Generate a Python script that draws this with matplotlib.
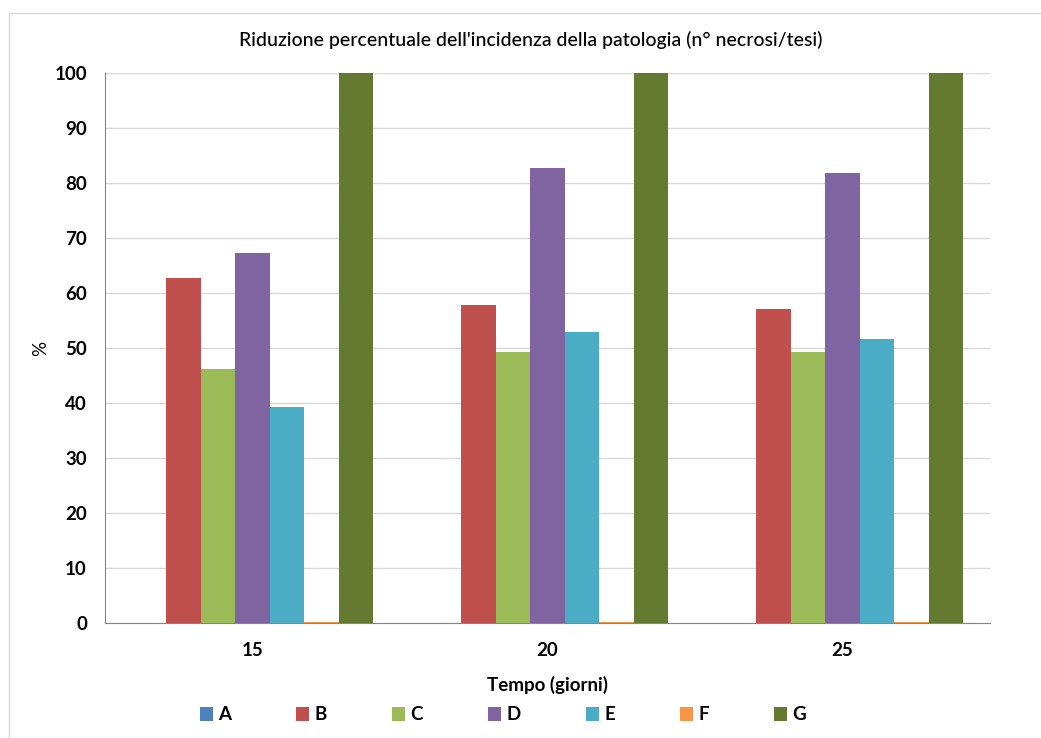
import matplotlib.pyplot as plt
import numpy as np
from matplotlib.patches import Rectangle

plt.rcParams['font.family'] = ['Lato', 'DejaVu Sans']

giorni = ['15', '20', '25']
tesi = ['A', 'B', 'C', 'D', 'E', 'F', 'G']
colori = ['#4f81bd', '#c0504d', '#9bbb59', '#8064a2', '#4bacc6', '#f79646', '#647a30']

# riduzione % per tesi, nei tre tempi
A = [0, 0, 0]
B = [62.8, 57.8, 57.1]
C = [46.2, 49.3, 49.2]
D = [67.3, 82.7, 81.8]
E = [39.3, 52.9, 51.6]
F = [0.2, 0.2, 0.2]
G = [100, 100, 100]
valori = [A, B, C, D, E, F, G]

fig = plt.figure(figsize=(10.41, 7.38), dpi=100)
ax = fig.add_axes([105 / 1041, 1 - 623 / 738, 885 / 1041, 550 / 738])

x = np.arange(len(giorni))
w = 0.82 / len(tesi)
for k, (nome, serie) in enumerate(zip(tesi, valori)):
    ax.bar(x + (k - 3) * w, serie, width=w, color=colori[k], label=nome, zorder=3)

ax.set_xlim(-0.5, 2.5)
ax.set_ylim(0, 100)
ax.set_yticks(range(0, 101, 10))
ax.set_xticks(x)
ax.set_xticklabels(giorni)
ax.grid(axis='y', color='#d9d9d9', linewidth=1, zorder=0)
ax.tick_params(axis='both', length=0, labelsize=13.5)
ax.tick_params(axis='y', pad=13)
ax.tick_params(axis='x', pad=14)
for lab in ax.get_xticklabels() + ax.get_yticklabels():
    lab.set_fontweight('bold')
for s in ['top', 'right']:
    ax.spines[s].set_visible(False)
for s in ['left', 'bottom']:
    ax.spines[s].set_color('#868686')

ax.set_xlabel('Tempo (giorni)', fontsize=13.5, fontweight='bold', labelpad=12)
ax.set_ylabel('%', fontsize=13.5, labelpad=4)
fig.text(531 / 1041, 1 - 40 / 738, "Riduzione percentuale dell'incidenza della patologia (n° necrosi/tesi)",
         ha='center', va='center', fontsize=14, fontweight='medium')

leg = fig.legend(loc='center', bbox_to_anchor=(503 / 1041, 1 - 715 / 738), ncol=7, frameon=False,
                 fontsize=13.5, handlelength=0.7, handleheight=0.7, handletextpad=0.3,
                 columnspacing=3.45)
for t in leg.get_texts():
    t.set_fontweight('bold')

# cornice del grafico
fig.add_artist(Rectangle((9 / 1041, -0.05), 1.1, 1 - 13 / 738 + 0.05, transform=fig.transFigure,
                         fill=False, edgecolor='#d9d9d9', linewidth=1))

fig.savefig('out.png', dpi=100)
